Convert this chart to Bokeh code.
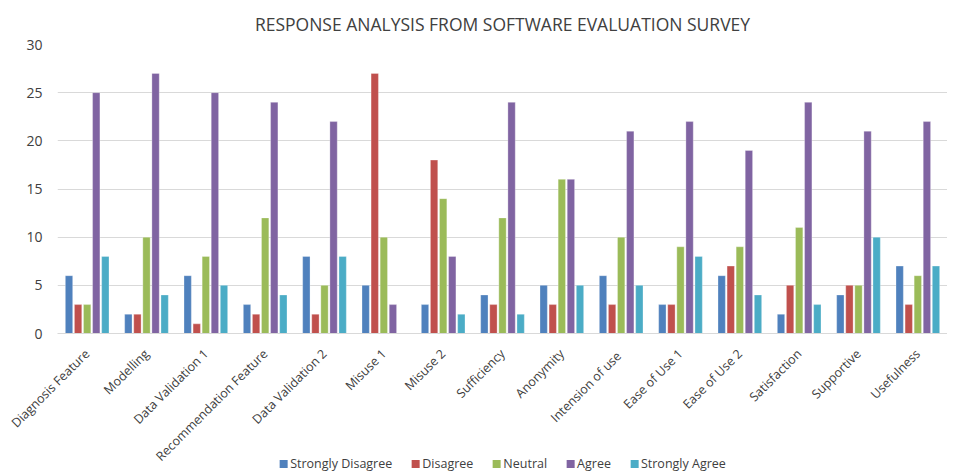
import math
from bokeh.plotting import figure
from bokeh.layouts import column
from bokeh.models import (FactorRange, Range1d, Legend, LegendItem,
                          FixedTicker, ColumnDataSource)
from bokeh.transform import dodge
from bokeh.embed import file_html
from bokeh.resources import INLINE

categories = ["Diagnosis Feature", "Modelling", "Data Validation 1",
              "Recommendation Feature", "Data Validation 2", "Misuse 1",
              "Misuse 2", "Sufficiency", "Anonymity", "Intension of  use",
              "Ease of Use 1", "Ease of Use 2", "Satisfaction", "Supportive",
              "Usefulness"]
strongly_disagree = [6, 2, 6, 3, 8, 5, 3, 4, 5, 6, 3, 6, 2, 4, 7]
disagree = [3, 2, 1, 2, 2, 27, 18, 3, 3, 3, 3, 7, 5, 5, 3]
neutral = [3, 10, 8, 12, 5, 10, 14, 12, 16, 10, 9, 9, 11, 5, 6]
agree = [25, 27, 25, 24, 22, 3, 8, 24, 16, 21, 22, 19, 24, 21, 22]
strongly_agree = [8, 4, 5, 4, 8, 0, 2, 2, 5, 5, 8, 4, 3, 10, 7]
y_ticks = [0, 5, 10, 15, 20, 25, 30]
series_names = ["Strongly Disagree", "Disagree", "Neutral", "Agree", "Strongly Agree"]
series_keys = ["sd", "d", "n", "a", "sa"]
colors = ["#4F81BD", "#C0504D", "#9BBB59", "#8064A2", "#4BACC6"]

src = ColumnDataSource(dict(cat=categories, sd=strongly_disagree, d=disagree,
                            n=neutral, a=agree, sa=strongly_agree))

FONT = "Open Sans"
TXT = "#404040"
xr = FactorRange(*categories)

p = figure(x_range=xr, y_range=Range1d(0, 30),
           width=947, height=473, output_backend="svg", toolbar_location=None,
           min_border_left=57, min_border_right=0, min_border_top=44,
           min_border_bottom=0,
           title="RESPONSE ANALYSIS FROM SOFTWARE EVALUATION SURVEY")
p.outline_line_color = None
p.title.align = "center"
p.title.text_font = FONT
p.title.text_font_size = "17.5px"
p.title.text_font_style = "normal"
p.title.text_color = "#404040"
p.title.standoff = 17

pitch = 0.153
for i, (k, c) in enumerate(zip(series_keys, colors)):
    p.vbar(x=dodge("cat", (i - 2) * pitch, range=xr), top=k,
           width=0.124, source=src, fill_color=c, line_color="white",
           line_alpha=0.5, line_width=0.6)

p.xgrid.grid_line_color = None
p.ygrid.grid_line_color = "#D9D9D9"
p.ygrid.grid_line_width = 1

p.yaxis.ticker = FixedTicker(ticks=y_ticks)
p.yaxis.axis_line_color = None
p.yaxis.major_tick_line_color = None
p.yaxis.minor_tick_line_color = None
p.yaxis.major_label_text_font = FONT
p.yaxis.major_label_text_font_size = "14px"
p.yaxis.major_label_text_color = TXT
p.yaxis.major_label_standoff = 9

p.xaxis.axis_line_color = "#D9D9D9"
p.xaxis.major_tick_line_color = None
p.xaxis.minor_tick_line_color = None
p.xaxis.major_label_orientation = math.pi / 4
p.xaxis.major_label_text_font = FONT
p.xaxis.major_label_text_font_size = "12.5px"
p.xaxis.major_label_text_color = TXT
p.xaxis.major_label_standoff = 12

# legend strip, pulled up to overlap the empty bottom of the chart
p2 = figure(x_range=xr, y_range=Range1d(0, 30), width=947, height=16,
            output_backend="svg", toolbar_location=None,
            x_axis_location=None, y_axis_location=None,
            min_border_left=57, min_border_right=0, min_border_top=0,
            min_border_bottom=0, margin=(-18, 0, 0, 0))
p2.outline_line_color = None
p2.background_fill_alpha = 0
p2.border_fill_alpha = 0
p2.grid.grid_line_color = None
items = []
for i, (k, c, n) in enumerate(zip(series_keys, colors, series_names)):
    r = p2.vbar(x=dodge("cat", (i - 2) * pitch, range=xr), top=k,
                width=0.124, source=src, fill_color=c, line_color=None,
                visible=False)
    items.append(LegendItem(label=n, renderers=[r]))

legend = Legend(items=items, orientation="horizontal", location="center",
                border_line_color=None, background_fill_alpha=0,
                padding=0, margin=0, spacing=18, label_standoff=2,
                glyph_width=10, glyph_height=10, label_height=14,
                label_text_font=FONT, label_text_font_size="12.5px",
                label_text_color=TXT)
p2.add_layout(legend, "center")

layout = column(p, p2, spacing=0)
open("out.html", "w").write(file_html(layout, INLINE))
